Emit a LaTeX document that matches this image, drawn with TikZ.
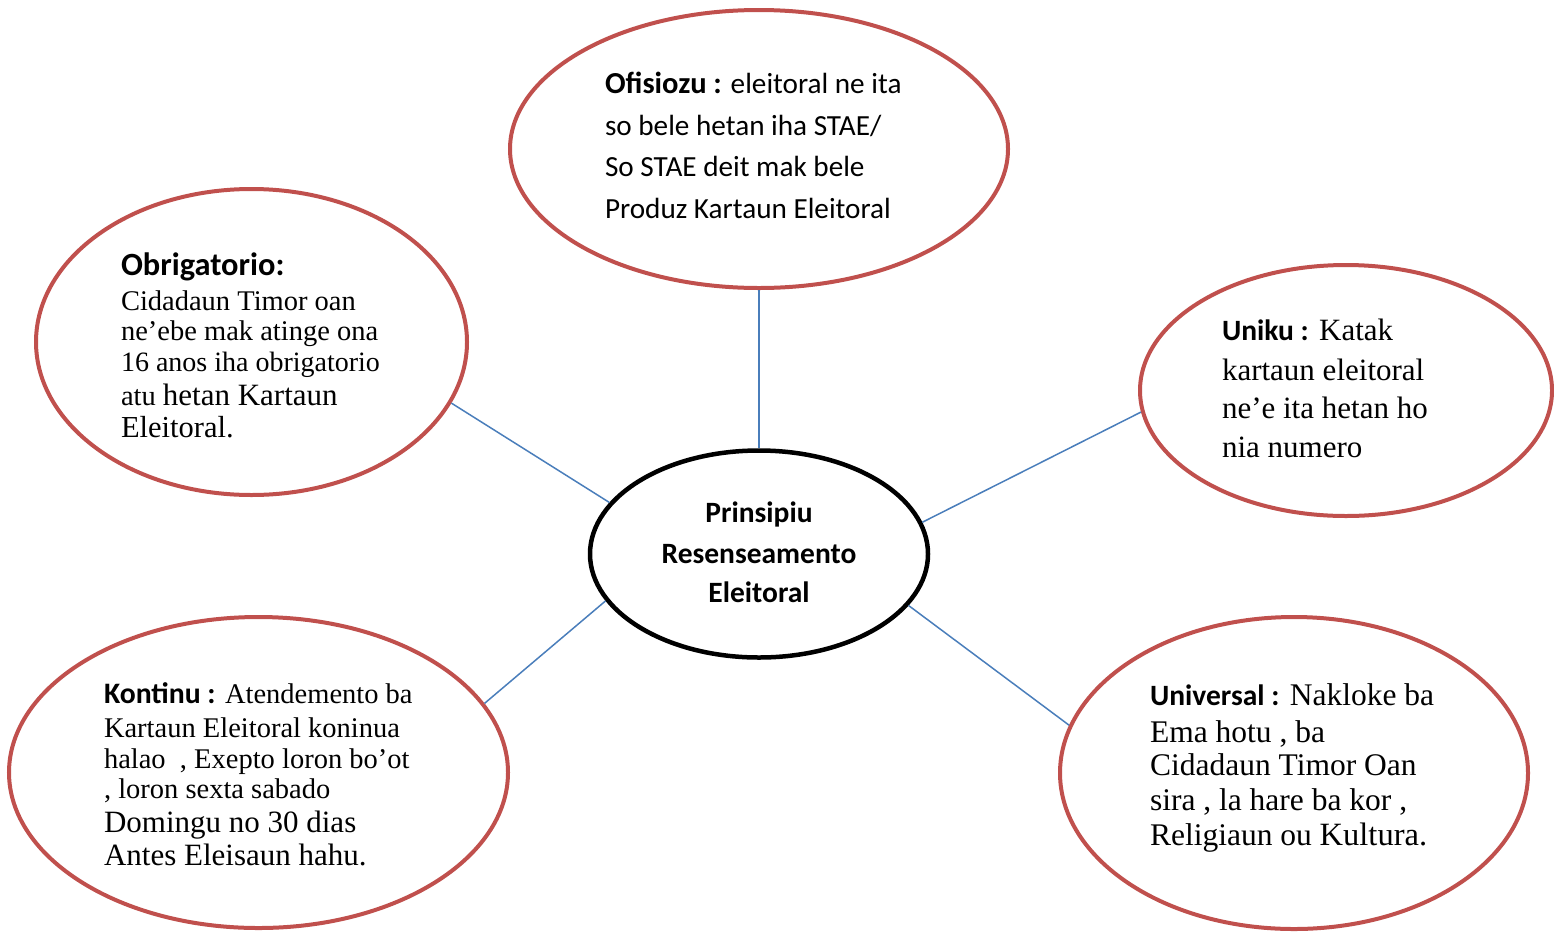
\documentclass[tikz,border=0pt]{standalone}
\usepackage{fontspec}
\setmainfont{Liberation Serif}
\newfontfamily\calib{Carlito}
\usetikzlibrary{shapes.geometric}
\definecolor{ered}{RGB}{192,80,77}
\definecolor{eblue}{RGB}{74,126,187}
\newcommand\fsz[1]{\fontsize{#1}{#1}\selectfont}
\begin{document}
\begin{tikzpicture}[x=1pt,y=-1pt,
  bub/.style={draw=ered, line width=4pt, ellipse, inner sep=0pt},
  hub/.style={draw=black, line width=4.5pt, ellipse, inner sep=0pt},
  link/.style={draw=eblue, line width=1.5pt},
  ln/.style={anchor=base west, inner sep=0pt, outer sep=0pt},
  cl/.style={anchor=base, inner sep=0pt, outer sep=0pt, font=\calib\bfseries\fsz{29.5}},
  ]
\useasboundingbox (0,0) rectangle (1554,932);

% ellipses
\node[bub, minimum width=498pt, minimum height=278pt] (top) at (759,149) {};
\node[bub, minimum width=431pt, minimum height=306pt] (obr) at (251.5,342) {};
\node[bub, minimum width=412pt, minimum height=251pt] (uni) at (1346,390.5) {};
\node[hub, minimum width=338pt, minimum height=207pt] (c) at (759,554) {};
\node[bub, minimum width=499pt, minimum height=311pt] (kon) at (258.5,772.5) {};
\node[bub, minimum width=468pt, minimum height=312pt] (unv) at (1294,773) {};

% connectors
\draw[link] (top.south) -- (c.north);
\draw[link] (obr.-17) -- (c.161);
\draw[link] (uni.186) -- (c.11);
\draw[link] (kon.17) -- (c.197);
\draw[link] (unv.168) -- (c.-19);

% centre
\node[cl] (c1) at (759,522) {Prinsipiu};
\node[cl] (c2) at (759,563) {Resenseamento};
\node[cl] (c3) at (759,602) {Eleitoral};

% Ofisiozu
\node[ln, font=\calib\fsz{29.2}] (of1) at (605,93) {{\fsz{30.5}\textbf{Ofisiozu :}} eleitoral ne ita};
\node[ln, font=\calib\fsz{29.2}] (of2) at (605,135) {so bele hetan iha STAE/};
\node[ln, font=\calib\fsz{29.2}] (of3) at (605,176) {So STAE deit mak bele};
\node[ln, font=\calib\fsz{29.2}] (of4) at (605,218) {Produz Kartaun Eleitoral};

% Obrigatorio
\node[ln, font=\calib\bfseries\fsz{32.4}] (ob1) at (121,275) {Obrigatorio:};
\node[ln, font=\fsz{28.5}] (ob2) at (121,310) {Cidadaun Timor oan};
\node[ln, font=\fsz{28.5}] (ob3) at (121,340) {ne’ebe mak atinge ona};
\node[ln, font=\fsz{28}] (ob4) at (121,371) {16 anos iha obrigatorio};
\node[ln, font=\fsz{28.5}] (ob5) at (121,405) {atu {\fsz{31}hetan Kartaun}};
\node[ln, font=\fsz{30.5}] (ob6) at (121,437) {Eleitoral.};

% Uniku
\node[ln, font=\fsz{31}] (un1) at (1222,340) {{\calib\bfseries\fsz{29.5}Uniku :} Katak};
\node[ln, font=\fsz{31}] (un2) at (1222,380) {kartaun eleitoral};
\node[ln, font=\fsz{31}] (un3) at (1222,418) {ne’e ita hetan ho};
\node[ln, font=\fsz{31}] (un4) at (1222,457) {nia numero};

% Kontinu
\node[ln, font=\fsz{28.5}] (ko1) at (104,703) {{\calib\bfseries\fsz{29.7}Kontinu :} Atendemento ba};
\node[ln, font=\fsz{28.5}] (ko2) at (104,737) {Kartaun Eleitoral koninua};
\node[ln, font=\fsz{28.5}] (ko3) at (104,768) {halao\ \ , Exepto loron bo’ot};
\node[ln, font=\fsz{28.5}] (ko4) at (104,798) {, loron sexta sabado};
\node[ln, font=\fsz{31}] (ko5) at (104,832) {Domingu no 30 dias};
\node[ln, font=\fsz{31}] (ko6) at (104,865) {Antes Eleisaun hahu.};

% Universal
\node[ln, font=\fsz{31.5}] (uv1) at (1150,705) {{\calib\bfseries\fsz{29.5}Universal :} Nakloke ba};
\node[ln, font=\fsz{31.5}] (uv2) at (1150,742) {Ema hotu , ba};
\node[ln, font=\fsz{31.5}] (uv3) at (1150,775) {Cidadaun Timor Oan};
\node[ln, font=\fsz{31.5}] (uv4) at (1150,810) {sira , la hare ba kor ,};
\node[ln, font=\fsz{31.5}] (uv5) at (1150,845) {Religiaun ou {\fsz{32.5}Kultura.}};
\end{tikzpicture}
\end{document}
